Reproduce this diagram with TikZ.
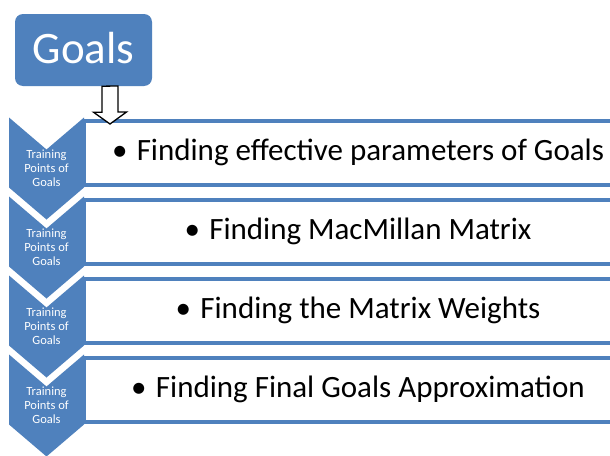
\documentclass[tikz,border=0pt]{standalone}
\usepackage{fontspec}
\setmainfont{Carlito}
\definecolor{accent}{HTML}{4F81BD}
\begin{document}
\begin{tikzpicture}[x=1pt,y=-1pt,
  goalbox/.style={fill=accent, rounded corners=8pt, text=white, font=\fontsize{45}{54}\selectfont,
    minimum width=137pt, minimum height=72pt, inner sep=0pt, text height=29pt, text depth=3pt},
  stepchev/.style={fill=accent},
  stepframe/.style={draw=accent, line width=4pt, fill=white, inner sep=0pt,
    minimum width=566pt, minimum height=64pt},
  chevtext/.style={text=white, font=\fontsize{12.5}{14}\selectfont, align=center, inner sep=0pt},
  itemtext/.style={font=\fontsize{31}{36}\selectfont, anchor=base, inner sep=0pt},
  blockarrow/.style={draw=black, fill=white, line width=1.3pt, line join=miter}]
\clip (0,0) rectangle (610,455);
\fill[white] (0,0) rectangle (610,455);
% goal box
\node[goalbox] (goals) at (83.5,50) {Goals};
% frames
\node[stepframe] (box1) at (367,152.5) {};
\node[stepframe] (box2) at (367,231.5) {};
\node[stepframe] (box3) at (367,310.5) {};
\node[stepframe] (box4) at (367,389.5) {};
% chevrons
\foreach \c in {152.5,231.5,310.5,389.5}{
  \fill[stepchev] (9,\c-35) -- (46.5,\c-3) -- (84,\c-35) -- (84,\c+35) -- (46.5,\c+67) -- (9,\c+35) -- cycle;
}
\node[chevtext] (c1) at (46.5,168.5) {Training\\Points of\\Goals};
\node[chevtext] (c2) at (46.5,247.5) {Training\\Points of\\Goals};
\node[chevtext] (c3) at (46.5,326.5) {Training\\Points of\\Goals};
\node[chevtext] (c4) at (46.5,405.5) {Training\\Points of\\Goals};
% item texts
\node[itemtext] (t1) at (358,160.5) {•\hspace{0.3em}Finding effective parameters of Goals};
\node[itemtext] (t2) at (358,239.5) {•\hspace{0.3em}Finding MacMillan Matrix};
\node[itemtext] (t3) at (358,318.5) {•\hspace{0.3em}Finding the Matrix Weights};
\node[itemtext] (t4) at (358,397.5) {•\hspace{0.3em}Finding Final Goals Approximation};
% block arrow from goals to first frame
\coordinate (atop) at (goals.south -| 110,0);
\coordinate (atip) at (110,124);
\draw[blockarrow] (atop) ++(-8,0) -- ++(0,26) -- ++(-8.5,0) -- (atip) -- ++(16.5,-12) -- ++(-8.5,0) -- ++(0,-26) -- cycle;
\end{tikzpicture}
\end{document}
